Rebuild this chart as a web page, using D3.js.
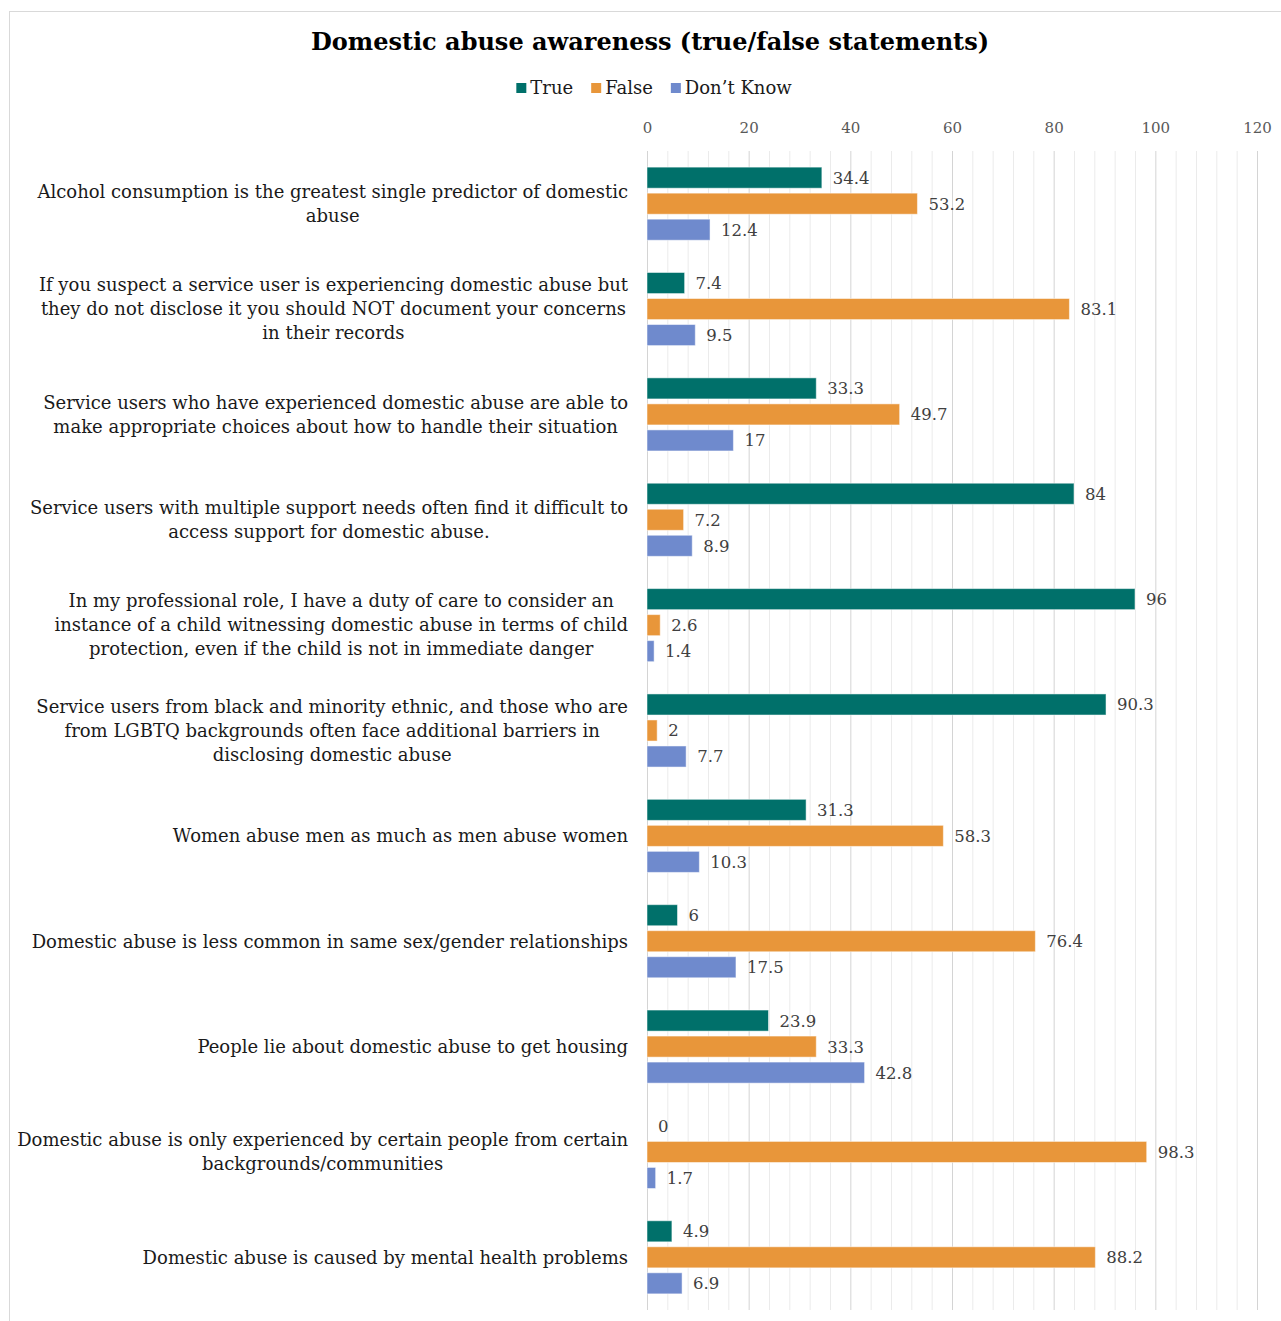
<!DOCTYPE html>
<html><head><meta charset="utf-8">
<script src="https://cdn.jsdelivr.net/npm/d3@7"></script>
<style>
body{margin:0;background:#fff;}
svg text{font-family:"DejaVu Serif",Georgia,serif;}
</style></head>
<body><svg id="c" width="1281" height="1321"></svg>
<script>
const categories = [
  ["Alcohol consumption is the greatest single predictor of domestic","abuse"],
  ["If you suspect a service user is experiencing domestic abuse but","they do not disclose it you should NOT document your concerns","in their records"],
  ["Service users who have experienced domestic abuse are able to","make appropriate choices about how to handle their situation"],
  ["Service users with multiple support needs often find it difficult to","access support for domestic abuse."],
  ["In my professional role, I have a duty of care to consider an","instance of a child witnessing domestic abuse in terms of child","protection, even if the child is not in immediate danger"],
  ["Service users from black and minority ethnic, and those who are","from LGBTQ backgrounds often face additional barriers in","disclosing domestic abuse"],
  ["Women abuse men as much as men abuse women"],
  ["Domestic abuse is less common in same sex/gender relationships"],
  ["People lie about domestic abuse to get housing"],
  ["Domestic abuse is only experienced by certain people from certain","backgrounds/communities"],
  ["Domestic abuse is caused by mental health problems"]
];
const seriesNames = ["True","False","Don\u2019t Know"];
const trueVals  = [34.4, 7.4, 33.3, 84, 96, 90.3, 31.3, 6, 23.9, 0, 4.9];
const falseVals = [53.2, 83.1, 49.7, 7.2, 2.6, 2, 58.3, 76.4, 33.3, 98.3, 88.2];
const dkVals    = [12.4, 9.5, 17, 8.9, 1.4, 7.7, 10.3, 17.5, 42.8, 1.7, 6.9];
const tickValues = [0,20,40,60,80,100,120];
const colors = ["#00706A","#E8963A","#6F8ACD"];

const svg = d3.select("#c");
svg.append("rect").attr("x",9.5).attr("y",11.5).attr("width",1290).attr("height",1330)
  .attr("fill","none").attr("stroke","#d9d9d9");

const x = d3.scaleLinear().domain([0,120]).range([647,1257]);
const y0 = d3.scaleBand().domain(d3.range(categories.length)).range([151,1310]);
const series = [trueVals, falseVals, dkVals];
const y1 = d3.scaleBand().domain([0,1,2]).range([0,y0.bandwidth()]).paddingInner(0.19).paddingOuter(0.62);

const minor = d3.range(0,121,4);
svg.append("g").selectAll("line").data(minor).join("line")
  .attr("x1",d=>x(d)+0.5).attr("x2",d=>x(d)+0.5).attr("y1",151).attr("y2",1310)
  .attr("stroke",d=>d%20===0?"#d4d4d4":"#ebebeb").attr("stroke-width",1);

const ax = svg.append("g").attr("transform","translate(0,128)")
  .call(d3.axisTop(x).tickValues(tickValues).tickSize(0).tickPadding(0));
ax.select(".domain").remove();
ax.selectAll("text").attr("fill","#595959").attr("font-size",15).attr("dy","0.35em")
  .style("font-family","'DejaVu Serif',serif");

const groups = svg.append("g").selectAll("g").data(categories).join("g")
  .attr("transform",(d,i)=>`translate(0,${y0(i)})`);
groups.each(function(d,i){
  const g = d3.select(this);
  series.forEach((s,k)=>{
    const v = s[i];
    g.append("rect").attr("x",x(0)).attr("y",y1(k)).attr("width",x(v)-x(0)).attr("height",y1.bandwidth())
      .attr("fill",colors[k]).attr("stroke",v>0?"rgba(255,255,255,0.5)":"none").attr("stroke-width",1);
    g.append("text").attr("x",x(v)+11).attr("y",y1(k)+y1.bandwidth()/2).attr("dy","0.36em")
      .attr("font-size",16.5).attr("fill","#404040").text(v);
  });
  const lines = d;
  const lh = 24;
  const cy = y0.bandwidth()/2;
  const t = g.append("text").attr("class","cat").attr("text-anchor","end").attr("font-size",18).attr("fill","#1a1a1a");
  lines.forEach((ln,j)=>{
    t.append("tspan").attr("x",628).attr("y",cy+(j-(lines.length-1)/2)*lh).attr("dy","0.35em").text(ln);
  });
});
groups.selectAll("text.cat").each(function(){
  const t = d3.select(this);
  const spans = t.selectAll("tspan");
  if (spans.size()>1){
    let maxW = 0;
    spans.each(function(){ maxW=Math.max(maxW,this.getComputedTextLength()); });
    t.attr("text-anchor","middle");
    spans.attr("x",628 - maxW/2);
  }
});

svg.append("text").attr("x",650).attr("y",50).attr("text-anchor","middle")
  .attr("font-size",24).attr("font-weight","bold").attr("fill","#000")
  .text("Domestic abuse awareness (true/false statements)");

const leg = svg.append("g");
let lx = 0;
seriesNames.forEach((n,k)=>{
  const gi = leg.append("g").attr("transform",`translate(${lx},0)`);
  gi.append("rect").attr("x",0).attr("y",-5).attr("width",10).attr("height",10).attr("fill",colors[k]);
  const tt = gi.append("text").attr("x",14).attr("y",0).attr("dy","0.35em").attr("font-size",18).attr("fill","#1a1a1a").text(n);
  lx += 14 + tt.node().getComputedTextLength() + 18;
});
const lw = lx - 18;
leg.attr("transform",`translate(${654 - lw/2},88)`);
</script></body></html>
